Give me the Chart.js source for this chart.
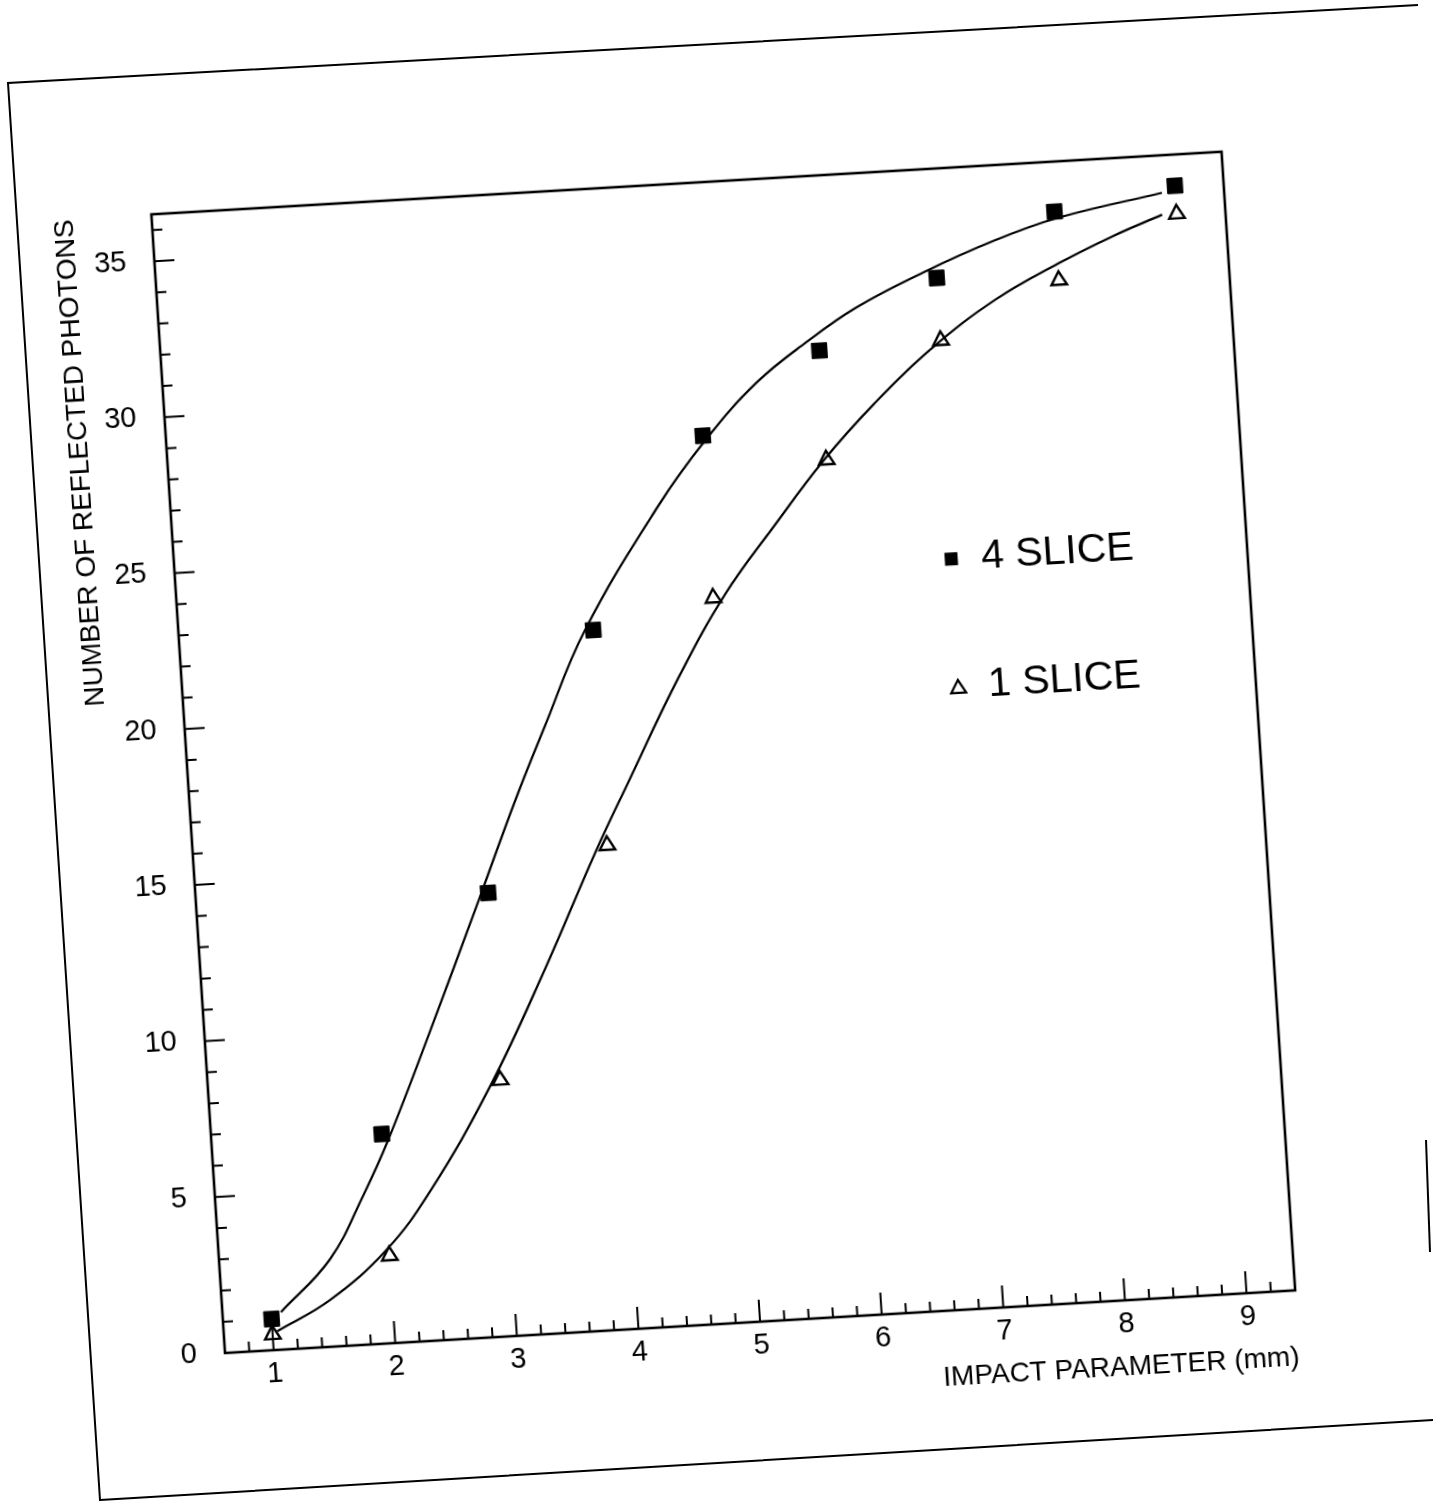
<!DOCTYPE html>
<html>
<head>
<meta charset="utf-8">
<script src="https://cdn.jsdelivr.net/npm/chart.js@4.4.0/dist/chart.umd.min.js"></script>
<style>
  html, body { margin:0; padding:0; background:#fff; width:1433px; height:1501px; overflow:hidden; position:relative; }
  #page { position:absolute; left:0; top:0; }
  #wrap { position:absolute; left:75px; top:182px; width:1252px; height:1281px;
          transform-origin:150px 1171px;
          transform:matrix(0.99829,-0.05843,0.06453,0.99792,0,0); }
  canvas { display:block; }
</style>
</head>
<body>
<svg id="page" width="1433" height="1501">
  <polyline points="1418,5 8,83 100,1500 1433,1420" fill="none" stroke="#000" stroke-width="2"/>
  <line x1="1426" y1="1140" x2="1430" y2="1252" stroke="#000" stroke-width="2"/>
</svg>
<div id="wrap"><canvas id="c" width="1252" height="1281"></canvas></div>
<script>
// ---- data ----
const impactParameter = [1, 2, 3, 4, 5, 6, 7, 8, 9];
const slice4 = [1.0, 6.7, 14.2, 22.4, 28.4, 30.9, 33.0, 34.9, 35.5];
const slice1 = [0.5, 2.8, 8.2, 15.5, 23.2, 27.4, 31.0, 32.7, 34.6];

// fitted curves
const fit4X = [1.08, 1.51, 1.82, 2.05, 2.44, 2.92, 3.27, 3.55, 3.93, 4.59, 5.03, 5.47, 5.90, 6.32, 6.89, 7.50, 8.03, 8.89];
const fit4Y = [1.2, 2.8, 4.8, 6.5, 9.8, 14.0, 17.1, 19.4, 22.4, 26.2, 28.3, 30.0, 31.2, 32.2, 33.2, 34.1, 34.7, 35.3];
const fit1X = [1.04, 1.49, 1.98, 2.37, 2.91, 3.43, 3.90, 4.21, 4.67, 5.10, 5.54, 5.98, 6.42, 6.90, 7.47, 8.04, 8.46, 8.88];
const fit1Y = [0.6, 1.5, 3.0, 4.8, 8.0, 11.7, 15.3, 17.5, 20.7, 23.3, 25.4, 27.4, 29.1, 30.7, 32.2, 33.3, 34.0, 34.6];

const xTickLabels = [1, 2, 3, 4, 5, 6, 7, 8, 9];
const yTickLabels = [0, 5, 10, 15, 20, 25, 30, 35];
const xRange = [0.6, 9.4];
const yRange = [0, 36.5];

const legendItems = [
  { label: '4 SLICE', style: 'rect', x: 6.97, y: 24.0 },
  { label: '1 SLICE', style: 'triangle', x: 6.96, y: 19.9 }
];

const FONT = '"Liberation Sans", Arial, Helvetica, sans-serif';

const toXY = (xs, ys) => xs.map((x, i) => ({ x: x, y: ys[i] }));

const framePlugin = {
  id: 'frameTicks',
  afterDraw(chart) {
    const { ctx, chartArea: { left, right, top, bottom }, scales: { x, y } } = chart;
    ctx.save();
    ctx.strokeStyle = '#000';
    ctx.lineWidth = 2.6;
    ctx.strokeRect(left, top, right - left, bottom - top);
    // inner ticks on x axis (minor every 0.2, major on labels)
    ctx.lineWidth = 2;
    ctx.beginPath();
    for (let k = 4; k <= 46; k++) {
      const v = k / 5;
      if (v < xRange[0] || v > xRange[1]) continue;
      const px = x.getPixelForValue(v);
      const major = k % 5 === 0;
      ctx.moveTo(px, bottom);
      ctx.lineTo(px, bottom - (major ? 22 : 10));
    }
    // inner ticks on y axis (minor every 1, major every 5)
    for (let v = 1; v <= 36; v++) {
      const py = y.getPixelForValue(v);
      const major = v % 5 === 0;
      ctx.moveTo(left, py);
      ctx.lineTo(left + (major ? 20 : 10), py);
    }
    ctx.stroke();

    // legend inside plot
    ctx.fillStyle = '#000';
    ctx.font = '41px ' + FONT;
    ctx.textBaseline = 'middle';
    ctx.textAlign = 'left';
    legendItems.forEach(it => {
      const cx = x.getPixelForValue(it.x);
      const cy = y.getPixelForValue(it.y);
      if (it.style === 'rect') {
        ctx.fillRect(cx - 6.5, cy - 6.5, 13, 13);
      } else {
        ctx.beginPath();
        ctx.moveTo(cx, cy - 7);
        ctx.lineTo(cx + 7.5, cy + 6);
        ctx.lineTo(cx - 7.5, cy + 6);
        ctx.closePath();
        ctx.lineWidth = 2.2;
        ctx.stroke();
      }
      ctx.fillText(it.label, cx + 30, cy);
    });
    ctx.restore();
  }
};

new Chart(document.getElementById('c'), {
  type: 'scatter',
  data: {
    datasets: [
      { label: '4 SLICE fit', data: toXY(fit4X, fit4Y), showLine: true, pointRadius: 0,
        borderColor: '#000', borderWidth: 2.2, tension: 0.4, fill: false, order: 3 },
      { label: '1 SLICE fit', data: toXY(fit1X, fit1Y), showLine: true, pointRadius: 0,
        borderColor: '#000', borderWidth: 2.2, tension: 0.4, fill: false, order: 4 },
      { label: '4 SLICE', data: toXY(impactParameter, slice4), showLine: false,
        pointStyle: 'rect', pointRadius: 10.8, backgroundColor: '#000', borderColor: '#000', borderWidth: 1, order: 1 },
      { label: '1 SLICE', data: toXY(impactParameter, slice1), showLine: false,
        pointStyle: 'triangle', pointRadius: 9, backgroundColor: 'rgba(0,0,0,0)', borderColor: '#000', borderWidth: 2.4, order: 2 }
    ]
  },
  options: {
    responsive: false,
    animation: false,
    devicePixelRatio: 1,
    layout: { padding: { left: 0, top: 30, right: 30, bottom: 0 } },
    plugins: { legend: { display: false }, tooltip: { enabled: false } },
    scales: {
      x: {
        type: 'linear', min: xRange[0], max: xRange[1], position: 'bottom',
        afterBuildTicks: s => { s.ticks = xTickLabels.map(v => ({ value: v })); },
        afterFit: s => { s.height = 110; s.paddingLeft = 0; s.paddingRight = 0; s.paddingTop = 0; s.paddingBottom = 0; },
        grid: { display: false, drawTicks: false },
        border: { display: false },
        ticks: { color: '#000', font: { family: FONT, size: 29 }, padding: 7, maxRotation: 0, autoSkip: false,
                 callback: v => String(v) },
        title: { display: true, text: 'IMPACT PARAMETER (mm)', align: 'end', color: '#000',
                 font: { family: FONT, size: 28 }, padding: { top: 0, bottom: 26 } }
      },
      y: {
        type: 'linear', min: yRange[0], max: yRange[1], position: 'left',
        afterBuildTicks: s => { s.ticks = yTickLabels.map(v => ({ value: v })); },
        afterFit: s => { s.width = 150; s.paddingLeft = 0; s.paddingRight = 0; s.paddingTop = 0; s.paddingBottom = 0; },
        grid: { display: false, drawTicks: false },
        border: { display: false },
        ticks: { color: '#000', font: { family: FONT, size: 29 }, padding: 28, callback: v => String(v) },
        title: { display: true, text: 'NUMBER OF REFLECTED PHOTONS', align: 'end', color: '#000',
                 font: { family: FONT, size: 28 }, padding: { top: 46, bottom: 0 } }
      }
    }
  },
  plugins: [framePlugin]
});
</script>
</body>
</html>
